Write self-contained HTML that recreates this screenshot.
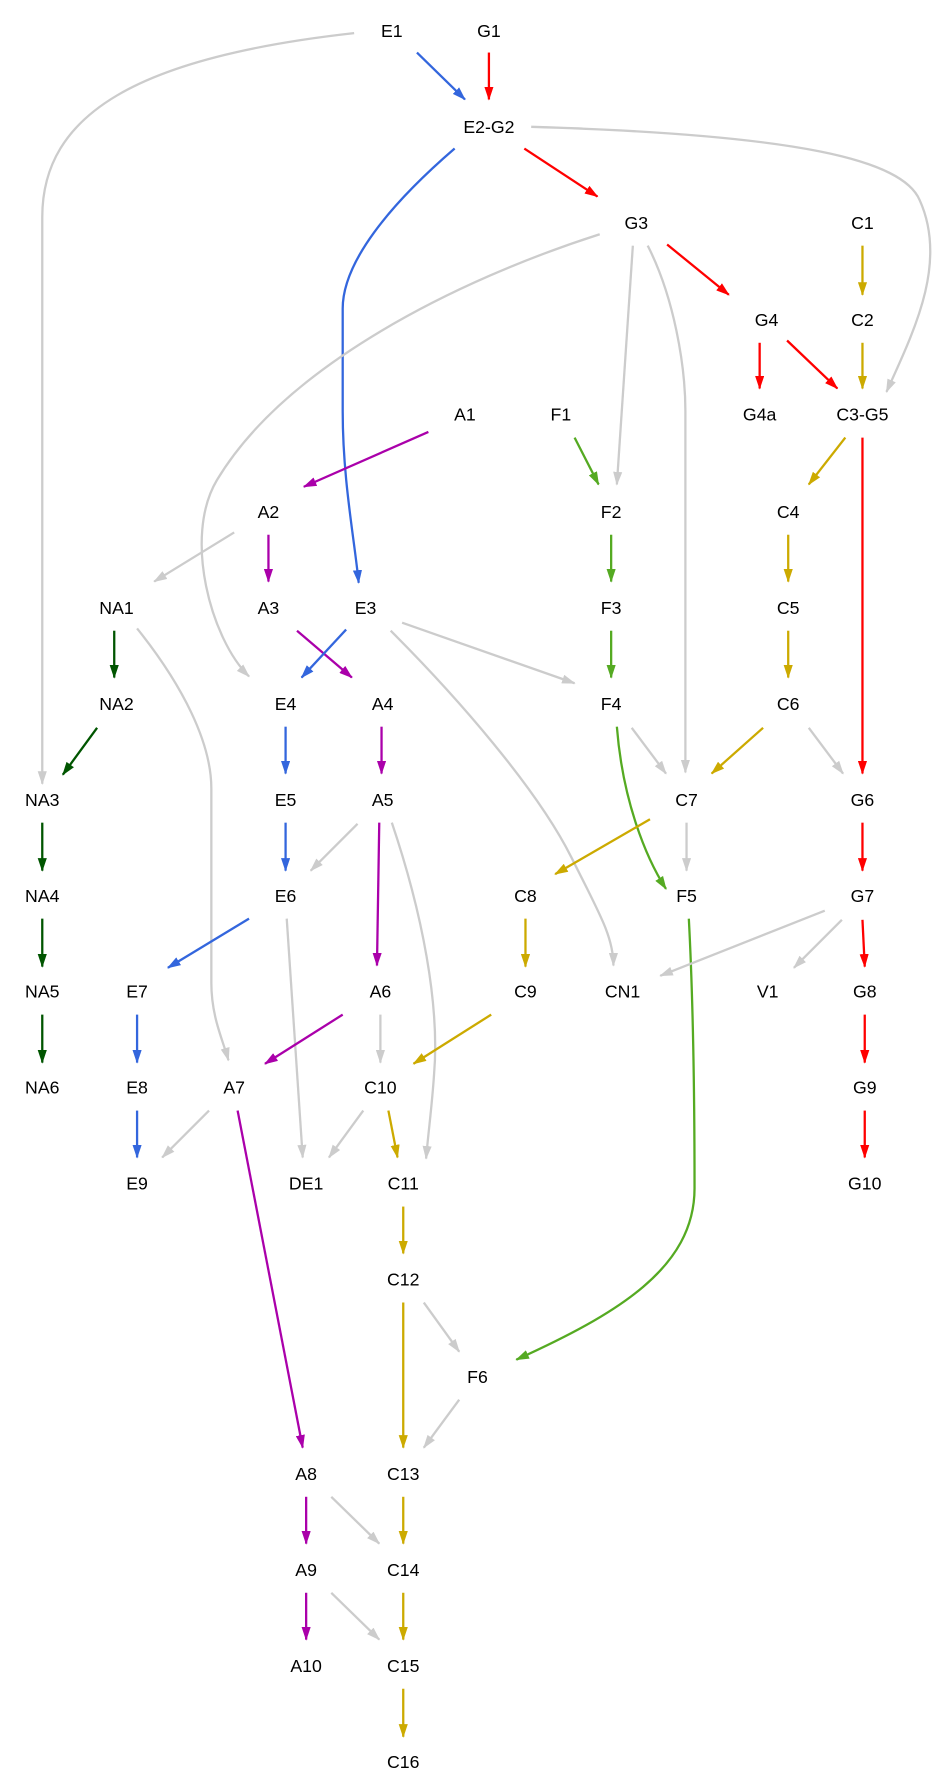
<!DOCTYPE html>
<html><head><meta charset="utf-8"><style>
html,body{margin:0;padding:0;background:#fff;}
svg{display:block;}
text{font-family:"Liberation Sans",Arial,sans-serif;font-size:15.5px;fill:#000;text-anchor:middle;dominant-baseline:central;}
path{fill:none;stroke-width:2;}
.g{stroke:#cccccc;marker-end:url(#mg);}
.b{stroke:#3366dd;marker-end:url(#mb);}
.r{stroke:#ff0000;marker-end:url(#mr);}
.y{stroke:#ccaa00;marker-end:url(#my);}
.f{stroke:#55aa22;marker-end:url(#mf);}
.d{stroke:#005500;marker-end:url(#md);}
.p{stroke:#aa00aa;marker-end:url(#mp);}
</style></head><body>
<svg width="939" height="1787" viewBox="0 0 822 1564" preserveAspectRatio="none">
<defs>
<marker id="mg" markerUnits="userSpaceOnUse" viewBox="0 0 12 8" refX="11" refY="4" markerWidth="12" markerHeight="8" orient="auto"><path d="M0,0 L12,4 L0,8 z" style="fill:#cccccc;stroke:none"/></marker>
<marker id="mb" markerUnits="userSpaceOnUse" viewBox="0 0 12 8" refX="11" refY="4" markerWidth="12" markerHeight="8" orient="auto"><path d="M0,0 L12,4 L0,8 z" style="fill:#3366dd;stroke:none"/></marker>
<marker id="mr" markerUnits="userSpaceOnUse" viewBox="0 0 12 8" refX="11" refY="4" markerWidth="12" markerHeight="8" orient="auto"><path d="M0,0 L12,4 L0,8 z" style="fill:#ff0000;stroke:none"/></marker>
<marker id="my" markerUnits="userSpaceOnUse" viewBox="0 0 12 8" refX="11" refY="4" markerWidth="12" markerHeight="8" orient="auto"><path d="M0,0 L12,4 L0,8 z" style="fill:#ccaa00;stroke:none"/></marker>
<marker id="mf" markerUnits="userSpaceOnUse" viewBox="0 0 12 8" refX="11" refY="4" markerWidth="12" markerHeight="8" orient="auto"><path d="M0,0 L12,4 L0,8 z" style="fill:#55aa22;stroke:none"/></marker>
<marker id="md" markerUnits="userSpaceOnUse" viewBox="0 0 12 8" refX="11" refY="4" markerWidth="12" markerHeight="8" orient="auto"><path d="M0,0 L12,4 L0,8 z" style="fill:#005500;stroke:none"/></marker>
<marker id="mp" markerUnits="userSpaceOnUse" viewBox="0 0 12 8" refX="11" refY="4" markerWidth="12" markerHeight="8" orient="auto"><path d="M0,0 L12,4 L0,8 z" style="fill:#aa00aa;stroke:none"/></marker>
</defs>

<path class="g" d="M310,29 C120,50 37,100 37,190 L37,686"/>
<path class="b" d="M365,46 L407,87"/>
<path class="r" d="M428,46 L428,87"/>
<path class="g" d="M465,111 C700,118 790,140 805,175 C830,230 800,290 776,343"/>
<path class="b" d="M398,130 C340,180 300,230 300,270 L300,360 C300,420 310,470 314,510"/>
<path class="r" d="M459,130 L523,172"/>
<path class="g" d="M525,205 C400,245 250,320 190,420 C160,470 185,560 218,592"/>
<path class="g" d="M554,215 L540,424"/>
<path class="g" d="M567,215 C590,260 600,320 600,360 L600,676"/>
<path class="r" d="M584,214 L638,258"/>
<path class="y" d="M755,215 L755,258"/>
<path class="r" d="M665,300 L665,340"/>
<path class="r" d="M689,298 L733,340"/>
<path class="y" d="M755,300 L755,340"/>
<path class="p" d="M375,378 L266,426"/>
<path class="f" d="M503,383 L524,424"/>
<path class="y" d="M740,383 L708,424"/>
<path class="r" d="M755,383 L755,677"/>
<path class="g" d="M205,466 L135,509"/>
<path class="p" d="M235,468 L235,509"/>
<path class="f" d="M535,468 L535,509"/>
<path class="y" d="M690,468 L690,509"/>
<path class="d" d="M100,552 L100,593"/>
<path class="g" d="M120,550 C160,600 185,650 185,690 L185,860 C185,890 195,910 200,928"/>
<path class="p" d="M260,552 L308,593"/>
<path class="b" d="M303,551 L264,593"/>
<path class="g" d="M352,545 L503,598"/>
<path class="g" d="M342,552 C400,610 470,690 500,750 C525,800 537,820 537,845"/>
<path class="f" d="M535,552 L535,593"/>
<path class="y" d="M690,552 L690,593"/>
<path class="d" d="M85,637 L55,678"/>
<path class="b" d="M250,636 L250,677"/>
<path class="p" d="M334,636 L334,677"/>
<path class="g" d="M553,637 L583,677"/>
<path class="f" d="M540,636 C545,700 565,750 583,778"/>
<path class="y" d="M668,637 L623,677"/>
<path class="g" d="M708,637 L738,677"/>
<path class="d" d="M37,720 L37,762"/>
<path class="b" d="M250,720 L250,762"/>
<path class="g" d="M313,721 L272,762"/>
<path class="p" d="M332,720 L330,845"/>
<path class="g" d="M343,720 C370,800 385,880 380,940 C378,970 375,990 373,1014"/>
<path class="y" d="M569,717 L486,765"/>
<path class="g" d="M601,720 L601,762"/>
<path class="r" d="M755,720 L755,762"/>
<path class="d" d="M37,804 L37,846"/>
<path class="b" d="M218,804 L147,847"/>
<path class="g" d="M251,804 L265,1013"/>
<path class="y" d="M460,804 L460,846"/>
<path class="f" d="M603,804 C607,880 608,960 608,1040 C608,1110 540,1150 452,1190"/>
<path class="g" d="M722,797 L578,854"/>
<path class="g" d="M737,805 L695,847"/>
<path class="r" d="M755,805 L757,846"/>
<path class="d" d="M37,888 L37,930"/>
<path class="b" d="M120,888 L120,930"/>
<path class="p" d="M300,888 L232,931"/>
<path class="g" d="M333,888 L333,930"/>
<path class="y" d="M430,888 L362,931"/>
<path class="r" d="M757,888 L757,930"/>
<path class="b" d="M120,972 L120,1013"/>
<path class="g" d="M183,972 L142,1013"/>
<path class="p" d="M208,972 L265,1267"/>
<path class="g" d="M318,972 L288,1013"/>
<path class="y" d="M340,972 L348,1013"/>
<path class="r" d="M757,972 L757,1013"/>
<path class="y" d="M353,1056 L353,1097"/>
<path class="y" d="M353,1140 L353,1267"/>
<path class="g" d="M371,1140 L402,1183"/>
<path class="g" d="M402,1225 L371,1267"/>
<path class="p" d="M268,1310 L268,1351"/>
<path class="g" d="M290,1310 L332,1351"/>
<path class="y" d="M353,1310 L353,1351"/>
<path class="p" d="M268,1394 L268,1435"/>
<path class="g" d="M290,1394 L332,1435"/>
<path class="y" d="M353,1394 L353,1435"/>
<path class="y" d="M353,1478 L353,1520"/>

<text x="343" y="27">E1</text><text x="428" y="27">G1</text>
<text x="428" y="111">E2-G2</text>
<text x="557" y="195">G3</text><text x="755" y="195">C1</text>
<text x="671" y="280">G4</text><text x="755" y="280">C2</text>
<text x="407" y="363">A1</text><text x="491" y="363">F1</text><text x="665" y="363">G4a</text><text x="755" y="363">C3-G5</text>
<text x="235" y="448">A2</text><text x="535" y="448">F2</text><text x="690" y="448">C4</text>
<text x="102" y="532">NA1</text><text x="235" y="532">A3</text><text x="320" y="532">E3</text><text x="535" y="532">F3</text><text x="690" y="532">C5</text>
<text x="102" y="616">NA2</text><text x="250" y="616">E4</text><text x="335" y="616">A4</text><text x="535" y="616">F4</text><text x="690" y="616">C6</text>
<text x="37" y="700">NA3</text><text x="250" y="700">E5</text><text x="335" y="700">A5</text><text x="601" y="700">C7</text><text x="755" y="700">G6</text>
<text x="37" y="784">NA4</text><text x="250" y="784">E6</text><text x="460" y="784">C8</text><text x="601" y="784">F5</text><text x="755" y="784">G7</text>
<text x="37" y="868">NA5</text><text x="120" y="868">E7</text><text x="333" y="868">A6</text><text x="460" y="868">C9</text><text x="545" y="868">CN1</text><text x="672" y="868">V1</text><text x="757" y="868">G8</text>
<text x="37" y="952">NA6</text><text x="120" y="952">E8</text><text x="205" y="952">A7</text><text x="333" y="952">C10</text><text x="757" y="952">G9</text>
<text x="120" y="1036">E9</text><text x="268" y="1036">DE1</text><text x="353" y="1036">C11</text><text x="757" y="1036">G10</text>
<text x="353" y="1120">C12</text>
<text x="418" y="1205">F6</text>
<text x="268" y="1290">A8</text><text x="353" y="1290">C13</text>
<text x="268" y="1374">A9</text><text x="353" y="1374">C14</text>
<text x="268" y="1458">A10</text><text x="353" y="1458">C15</text>
<text x="353" y="1542">C16</text>
</svg>
</body></html>
